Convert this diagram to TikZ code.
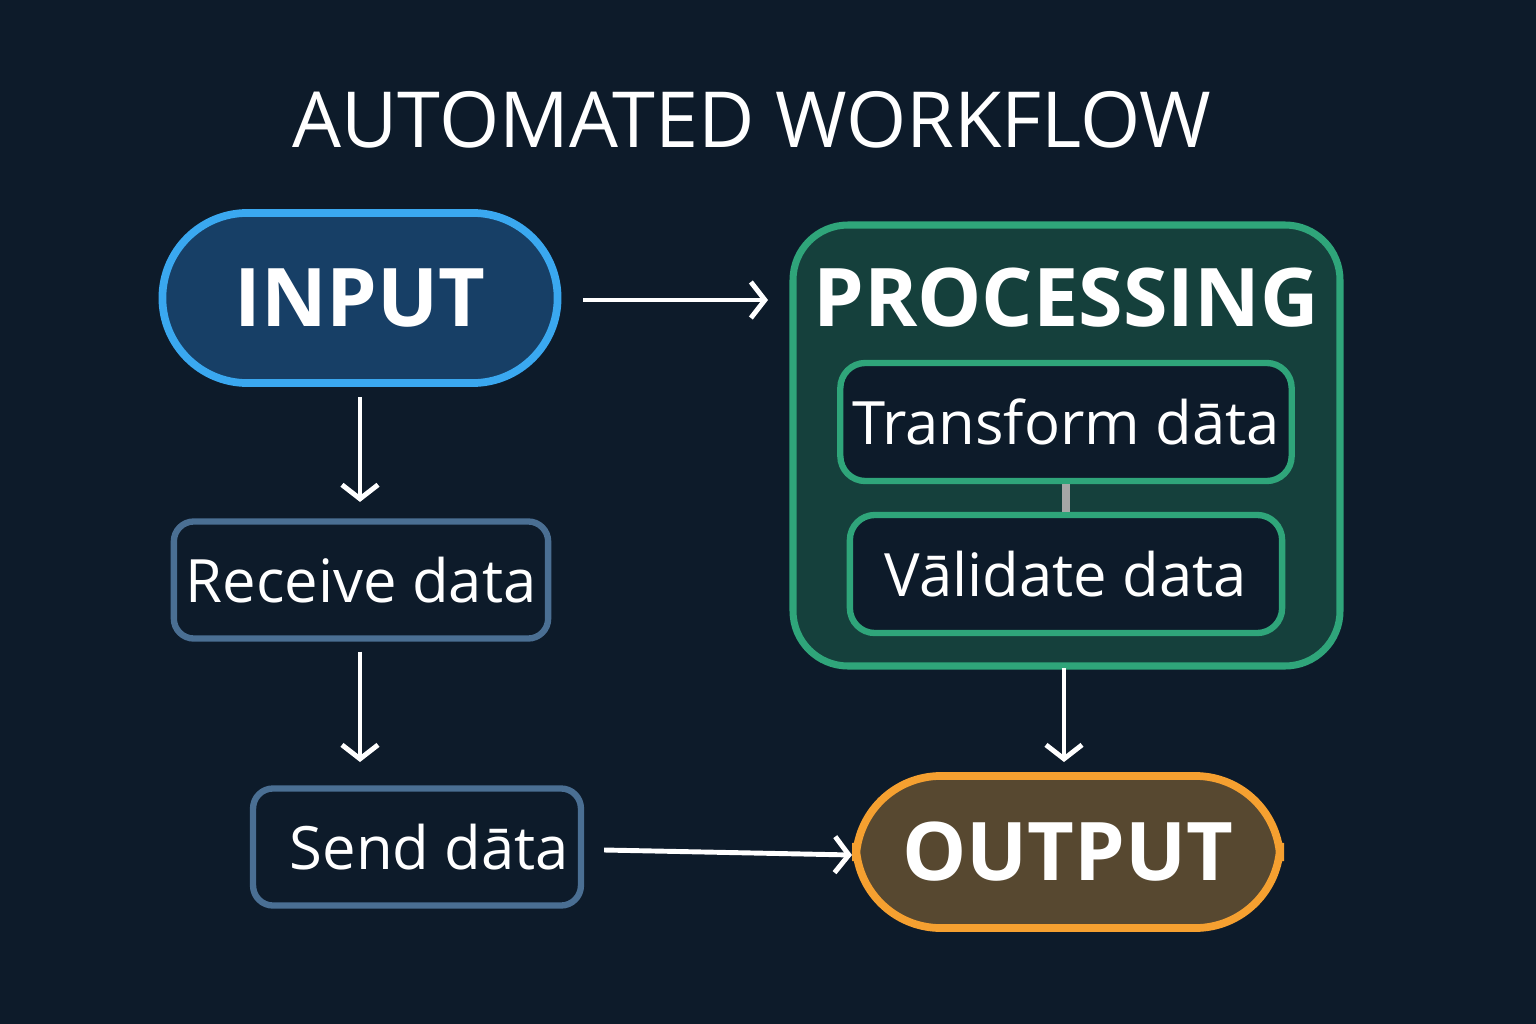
\documentclass[tikz,border=0pt]{standalone}
\usepackage{fontspec}
\setmainfont{Open Sans}
\usetikzlibrary{arrows.meta}
\definecolor{bg}{HTML}{0D1B2A}
\definecolor{inblue}{HTML}{3AA8F0}
\definecolor{infill}{HTML}{173F66}
\definecolor{stepline}{HTML}{4A6F93}
\definecolor{procline}{HTML}{2FA57A}
\definecolor{procfill}{HTML}{15403C}
\definecolor{outline}{HTML}{F5A030}
\definecolor{outfill}{HTML}{574830}
\tikzset{
  pill/.style={rounded corners=0.85cm,line width=2.2pt,minimum width=3.95cm,text=white,font=\fontsize{23}{26}\selectfont\bfseries},
  stepbox/.style={rounded corners=0.2cm,line width=1.8pt,draw=stepline,fill=bg,text=white,font=\fontsize{17}{20}\selectfont},
  subbox/.style={rounded corners=0.25cm,line width=1.8pt,draw=procline,fill=bg,text=white,minimum width=4.32cm,minimum height=1.18cm,font=\fontsize{17}{20}\selectfont},
  arr/.style={-{Straight Barb[length=0.14cm,width=0.36cm]},line width=1.4pt,white}
}
\begin{document}
\begin{tikzpicture}[x=0.01cm,y=-0.01cm]
	\fill[bg] (0,0) rectangle (1536,1024);
	\node[text=white,font=\fontsize{22}{26}\selectfont] (title) at (752,120) {AUTOMATED WORKFLOW};

	\node[pill,draw=inblue,fill=infill,minimum height=1.7cm] (input) at (360,298) {INPUT};
	\node[stepbox,minimum width=3.55cm,minimum height=1.17cm] (receive) at (361,580) {Receive data};
	\node[stepbox,minimum width=2.76cm,minimum height=1.17cm] (send) at (417,847) {\hspace{0.25cm}Send dāta};

	\draw[rounded corners=0.55cm,line width=2pt,draw=procline,fill=procfill] (793,225) rectangle (1340,666);
	\coordinate (procin) at (768,300);
	\coordinate (procout) at (1064,668);
	\node[text=white,font=\fontsize{23}{26}\selectfont\bfseries] (proc) at (1066,298) {PROCESSING};
	\node[subbox] (transform) at (1066,422) {Transform dāta};
	\node[subbox] (validate) at (1066,574) {Vālidate data};
	\node[pill,draw=outline,fill=outfill,minimum width=4.24cm,minimum height=1.52cm] (output) at (1068,852) {OUTPUT};

	\coordinate (recvend) at (360,762);

	\path[arr] (input.east) ++(22,2) edge (procin);
	\draw[arr] (input.south) ++(0,10) -- ++(0,105);
	\draw[arr] (receive.south) ++(-1,10) -- (recvend);
	\draw[arr] (procout) -- ++(0,94);
	\path[arr] (send.east) ++(20,3) edge ([yshift=-0.03cm]output.west);
	\draw[line width=2.5pt,gray!70] (transform.south) -- (validate.north);
\end{tikzpicture}
\end{document}
